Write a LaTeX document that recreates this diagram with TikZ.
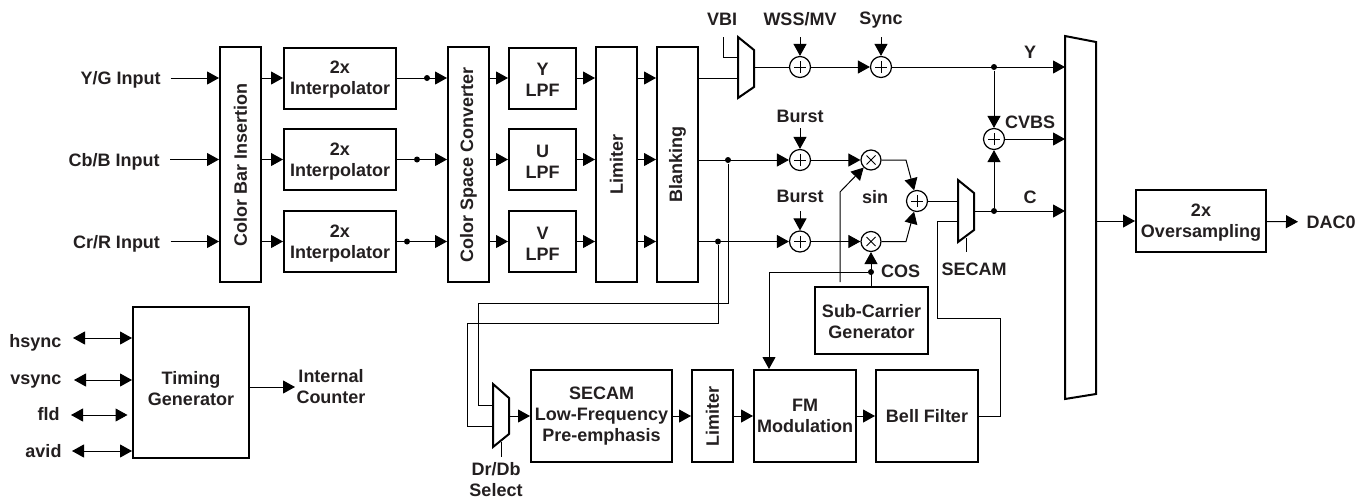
\documentclass[tikz,border=0pt]{standalone}
\usepackage{fontspec}
\usepackage{graphicx}
\setmainfont{Liberation Sans}
\usetikzlibrary{arrows.meta}
\definecolor{ink}{HTML}{231F20}
\newcommand{\firstline}[1][16.5pt]{\rule{0pt}{#1}}

\begin{document}
\begin{tikzpicture}[x=1pt,y=-1pt,->,>={Triangle[length=12pt,width=13pt]},line width=1pt,
		every node/.style={font=\fontsize{18}{21}\selectfont\bfseries,text=ink,inner sep=0pt,align=center},
		main node/.style={rectangle,draw,line width=2pt,minimum width=#1},
		main node/.default=41pt,
		sum node/.style={circle,draw,line width=1.2pt,minimum size=21pt,path picture={
			\draw[-,line width=1pt] (path picture bounding box.center) +(-6pt,0) -- +(6pt,0) +(0,-6pt) -- +(0,6pt);}},
		mul node/.style={circle,draw,line width=1.2pt,minimum size=20pt,path picture={
			\draw[-,line width=1pt] (path picture bounding box.center) +(-4.5pt,-4.5pt) -- +(4.5pt,4.5pt) +(-4.5pt,4.5pt) -- +(4.5pt,-4.5pt);}},
		dot node/.style={circle,fill=black,minimum size=6pt},
		sig node/.style={text height=13pt,text depth=0pt},
		mux line/.style={-,line width=2pt,line join=miter}]
		\useasboundingbox (0,0) rectangle (1369,499);

		% input rows
		\node[sig node,anchor=east,inner xsep=9.5pt] (yin) at (170.5,78) {Y/G Input};
		\node[sig node,anchor=east,inner xsep=10pt] (cbin) at (170,159.5) {Cb/B Input};
		\node[sig node,anchor=east,inner xsep=10pt] (crin) at (170.5,241.5) {Cr/R Input};
		\node[main node,minimum height=235pt] (bar) at (240.5,164.5) {\rotatebox{90}{Color Bar Insertion}};
		\node[main node=112pt,minimum height=61pt] (itp1) at (340,78) {\firstline 2x\\Interpolator};
		\node[main node=112pt,minimum height=61pt] (itp2) at (340,159.5) {\firstline 2x\\Interpolator};
		\node[main node=112pt,minimum height=61pt] (itp3) at (340,241.5) {\firstline 2x\\Interpolator};
		\node[main node,minimum height=235pt] (csc) at (468.5,164.5) {\rotatebox{90}{Color Space Converter}};
		\node[main node=67pt,minimum height=61pt] (ylpf) at (542.5,78) {\firstline Y\\LPF};
		\node[main node=67pt,minimum height=61pt] (ulpf) at (542.5,159.5) {\firstline U\\LPF};
		\node[main node=67pt,minimum height=61pt] (vlpf) at (542.5,241.5) {\firstline V\\LPF};
		\node[main node,minimum height=235pt] (lim) at (616.5,164.5) {\rotatebox{90}{Limiter}};
		\node[main node,minimum height=235pt] (blank) at (677.5,164.5) {\rotatebox{90}{Blanking}};
		\node[dot node] (d1) at (427,78) {};
		\node[dot node] (d2) at (417,159.5) {};
		\node[dot node] (d3) at (407,241.5) {};

		\path
		(yin) edge (yin -| bar.west)
		(cbin) edge (cbin -| bar.west)
		(crin) edge (crin -| bar.west)
		(bar.east |- itp1) edge (itp1)
		(bar.east |- itp2) edge (itp2)
		(bar.east |- itp3) edge (itp3)
		(itp1) edge (itp1 -| csc.west)
		(itp2) edge (itp2 -| csc.west)
		(itp3) edge (itp3 -| csc.west)
		(csc.east |- ylpf) edge (ylpf)
		(csc.east |- ulpf) edge (ulpf)
		(csc.east |- vlpf) edge (vlpf)
		(ylpf) edge (ylpf -| lim.west)
		(ulpf) edge (ulpf -| lim.west)
		(vlpf) edge (vlpf -| lim.west)
		(lim.east |- ylpf) edge (ylpf -| blank.west)
		(lim.east |- ulpf) edge (ulpf -| blank.west)
		(lim.east |- vlpf) edge (vlpf -| blank.west);

		% luma path
		\draw[mux line] (738,37) -- (754,50) -- (754,87) -- (738,98) -- cycle;
		\coordinate (vbiin) at (738,78);
		\coordinate (vbisel) at (738,57);
		\coordinate (vbiout) at (754,67);
		\node[sig node] (vbi) at (722,19) {VBI};
		\coordinate (vbifoot) at (723,37);
		\node[sig node] (wss) at (800,19) {WSS/MV};
		\node[sig node] (sync) at (881,18) {Sync};
		\coordinate (wsstop) at (800,37);
		\coordinate (synctop) at (881,37);
		\node[sum node] (wsssum) at (800,67) {};
		\node[sum node] (syncsum) at (881,67) {};
		\draw[-] (blank.east |- vbiin) -- (vbiin);
		\draw[-] (vbifoot) |- (vbisel);
		\draw[-] (vbiout) -- (wsssum);
		\path
		(wsstop) edge (wsssum)
		(synctop) edge (syncsum)
		(wsssum) edge (syncsum);

		% chroma path
		\node[sig node] (burst1) at (800,116) {Burst};
		\node[sig node] (burst2) at (800,196) {Burst};
		\coordinate (burst1top) at (800,128);
		\coordinate (burst2top) at (800,211);
		\node[sum node] (usum) at (800,160) {};
		\node[sum node] (vsum) at (800,241.5) {};
		\node[mul node] (mulsin) at (871,160) {};
		\node[mul node] (mulcos) at (871,241.5) {};
		\node[sum node] (csum) at (917,201) {};
		\node[sig node] (sin) at (875,197) {sin};
		\node[sig node] (cos) at (900.5,271) {COS};
		\node[main node=113pt,minimum height=67pt] (sub) at (871.5,320.5) {\firstline[15pt]Sub-Carrier\\Generator};
		\node[dot node] (costap) at (871,272) {};
		\coordinate (sinfoot) at (840,282);
		\coordinate (sinbend) at (840,192);
		\coordinate (mula) at (906,160);
		\coordinate (mulb) at (906,241.5);
		\node[dot node] (utap) at (728,160) {};
		\node[dot node] (vtap) at (718,241.5) {};
		\draw (blank.east |- usum) -- (usum);
		\draw (blank.east |- vsum) -- (vsum);
		\path
		(burst1top) edge (usum)
		(burst2top) edge (vsum)
		(usum) edge (mulsin)
		(vsum) edge (mulcos)
		(sub.north -| mulcos) edge (mulcos);
		\draw (sinfoot) -- (sinbend) -- (mulsin);
		\draw (mulsin) -- (mula) -- (csum);
		\draw (mulcos) -- (mulb) -- (csum);

		% secam mux and outputs
		\draw[mux line] (958,180) -- (974,193) -- (974,230) -- (958,242) -- cycle;
		\coordinate (secin) at (958,201);
		\coordinate (secbell) at (958,221);
		\coordinate (secout) at (974,211);
		\coordinate (secsel) at (966,238);
		\coordinate (secfoot) at (966,252);
		\node[sig node] (secam) at (974,269) {SECAM};
		\draw[-] (csum) -- (secin);
		\draw[-] (secsel) -- (secfoot);
		\draw[mux line] (1065,36) -- (1096,42) -- (1096,394) -- (1065,399) -- cycle;
		\node[dot node] (ytap) at (994,67) {};
		\node[dot node] (ctap) at (994,211) {};
		\node[sum node] (cvbssum) at (994,139) {};
		\node[sig node] (ylab) at (1030,52) {Y};
		\node[sig node] (cvbs) at (1030,122) {CVBS};
		\node[sig node] (clab) at (1030,197) {C};
		\coordinate (yport) at (1065,67);
		\coordinate (cvport) at (1065,139);
		\coordinate (cport) at (1065,211);
		\path
		(syncsum) edge (yport)
		(cvbssum) edge (cvport)
		(secout) edge (cport)
		(ytap) edge (cvbssum)
		(ctap) edge (cvbssum);
		\node[main node=130pt,minimum height=62pt] (over) at (1201,221) {\firstline[15pt]2x\\Oversampling};
		\node[sig node,anchor=west,inner xsep=8pt] (dac) at (1298,222) {DAC0};
		\coordinate (muxout) at (1096,221);
		\path
		(muxout) edge (over)
		(over) edge (dac);

		% secam encoder row
		\draw[mux line] (493,384) -- (509,398) -- (509,434) -- (493,447) -- cycle;
		\coordinate (drin) at (493,405);
		\coordinate (dbin) at (493,426);
		\coordinate (drout) at (509,416);
		\coordinate (drsel) at (501,442);
		\coordinate (drfoot) at (501,457);
		\node (select) at (496,480) {Dr/Db\\Select};
		\node[main node=141pt,minimum height=92pt] (pre) at (601.5,416) {SECAM\\Low-Frequency\\Pre-emphasis};
		\node[main node,minimum height=92pt] (lim2) at (712.5,416) {\rotatebox{90}{Limiter}};
		\node[main node=102pt,minimum height=92pt] (fm) at (805,416) {FM\\Modulation};
		\node[main node=102pt,minimum height=92pt] (bell) at (927,416) {Bell Filter};
		\coordinate (bellout) at (1000,416);
		\draw[-] (drsel) -- (drfoot);
		\draw[-] (utap) |- (478,303) |- (drin);
		\draw[-] (vtap) |- (467.5,323) |- (dbin);
		\draw[-] (bell) -- (bellout) |- (937,318) |- (secbell);
		\draw (costap) -| (fm.north -| 769,0);
		\path
		(drout) edge (pre)
		(pre) edge (lim2)
		(lim2) edge (fm)
		(fm) edge (bell);

		% timing
		\node[main node=116pt,minimum height=151pt] (timing) at (191,382.5) {\firstline[26pt]Timing\\Generator};
		\node[sig node,anchor=east] (hsync) at (62,341) {hsync};
		\node[sig node,anchor=east] (vsync) at (62,378) {vsync};
		\node[sig node,anchor=east] (fld) at (60,414) {fld};
		\node[sig node,anchor=east] (avid) at (62,451) {avid};
		\node (count) at (331,387) {Internal\\Counter};
		\coordinate (ha) at (73,338);
		\coordinate (va) at (74,380);
		\coordinate (fa) at (71,415);
		\coordinate (fb) at (127.5,415);
		\coordinate (aa) at (72,451);
		\coordinate (ce) at (295,387);
		\path[<->]
		(ha) edge (ha -| timing.west)
		(va) edge (va -| timing.west)
		(fa) edge (fb)
		(aa) edge (aa -| timing.west);
		\path (timing.east |- ce) edge (ce);
		\end{tikzpicture}
\end{document}
